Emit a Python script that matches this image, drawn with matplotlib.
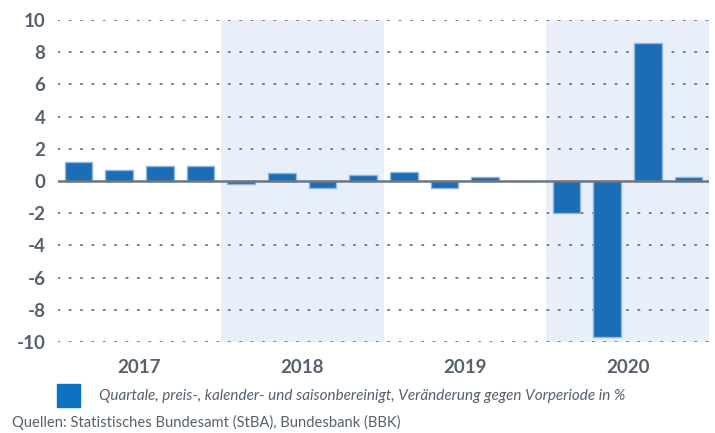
import matplotlib.pyplot as plt
from matplotlib.patches import Rectangle

years = ["2017", "2018", "2019", "2020"]
quarters = ["Q1", "Q2", "Q3", "Q4"]
# Veränderung gegen Vorperiode in %, 2017 Q1 .. 2020 Q4
values = [1.15, 0.7, 0.95, 0.95,
          -0.2, 0.47, -0.46, 0.35,
          0.58, -0.46, 0.22, 0.0,
          -2.0, -9.7, 8.6, 0.22]
shaded_years = ["2018", "2020"]
yticks = list(range(-10, 11, 2))

legend_text = "Quartale, preis-, kalender- und saisonbereinigt, Veränderung gegen Vorperiode in %"
source_text = "Quellen: Statistisches Bundesamt (StBA), Bundesbank (BBK)"

bar_color = "#1b6db5"
bar_edge = "#8fb6df"
shade_color = "#e8eff9"
text_color = "#56616c"
font = "Lato"

plt.rcParams["font.family"] = [font, "DejaVu Sans"]

fig = plt.figure(figsize=(7.15, 4.33), dpi=100)
ax = fig.add_axes([58 / 715, 1 - 342 / 433, 651 / 715, 322 / 433])

x = list(range(len(values)))
n_q = len(quarters)

# shaded year bands
for i, yr in enumerate(years):
    if yr in shaded_years:
        ax.axvspan(i * n_q - 0.5, (i + 1) * n_q - 0.5, color=shade_color, lw=0, zorder=0)

# dotted grid lines
for t in yticks:
    if t != 0:
        ax.axhline(t, color="#6a747e", lw=1.3, linestyle=(0, (0.8, 5.5)),
                   dash_capstyle="round", zorder=1)

ax.bar(x, values, width=0.68, color=bar_color, edgecolor=bar_edge, linewidth=1.0, zorder=2)
ax.axhline(0, color="#6b7580", lw=1.8, zorder=3)

ax.set_xlim(-0.5, len(values) - 0.5)
ax.set_ylim(-10, 10)
ax.set_yticks(yticks)
ax.set_yticklabels([str(t) for t in yticks], fontsize=13.5, fontweight="bold", color=text_color)
ax.tick_params(axis="y", length=0, pad=9)
ax.set_xticks([])
for s in ax.spines.values():
    s.set_visible(False)

# year labels
for i, yr in enumerate(years):
    ax.text(i * n_q + (n_q - 1) / 2, -11.6, yr, ha="center", va="center",
            fontsize=13.5, fontweight="bold", color=text_color)

# legend
fig.patches.append(Rectangle((57 / 715, 1 - 407 / 433), 23 / 715, 23 / 433,
                             transform=fig.transFigure, color="#0d72bf"))
fig.text(99 / 715, 1 - 396 / 433, legend_text, ha="left", va="center",
         fontsize=11, fontstyle="italic", color=text_color)
fig.text(12 / 715, 1 - 422 / 433, source_text, ha="left", va="center",
         fontsize=10.6, color=text_color)

fig.savefig("out.png", dpi=100)
